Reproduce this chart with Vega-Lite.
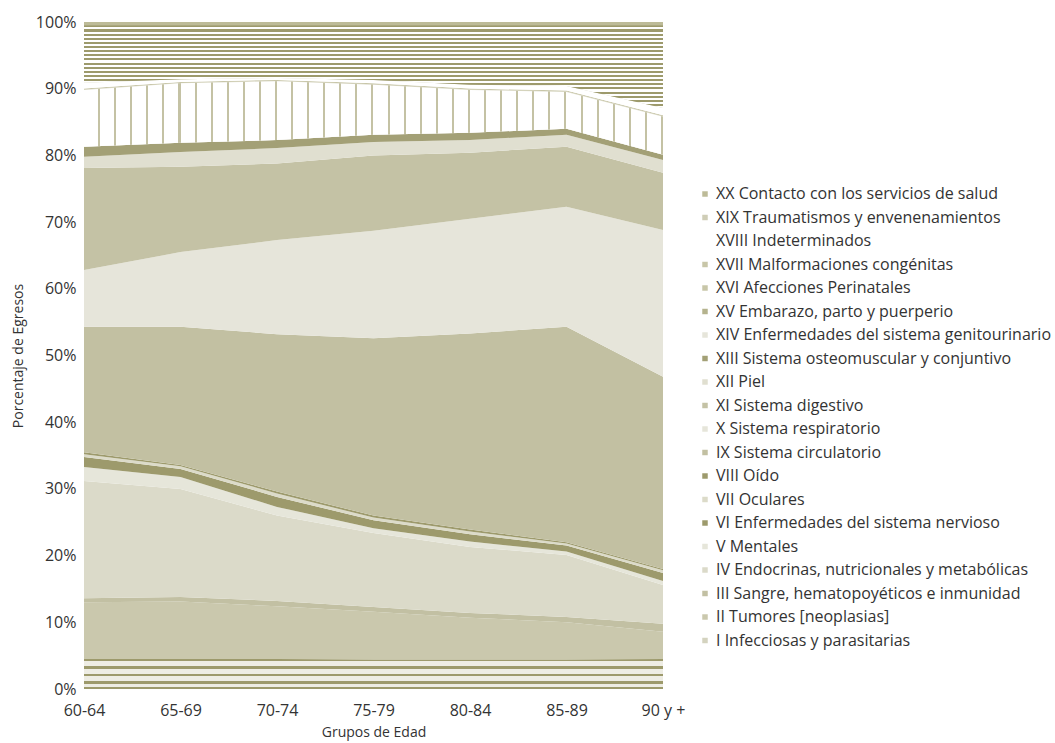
{
  "$schema": "https://vega.github.io/schema/vega-lite/v6.json",
  "width": 579,
  "height": 667,
  "autosize": {"type": "none"},
  "padding": {"left": 84, "top": 22, "right": 392, "bottom": 54},
  "background": "#ffffff",
  "config": {"view": {"stroke": null}, "font": "Open Sans"},
  "datasets": {
    "cats": [
      {"k": "I", "label": "I Infecciosas y parasitarias", "o": 1},
      {"k": "II", "label": "II Tumores [neoplasias]", "o": 2},
      {"k": "III", "label": "III Sangre, hematopoyéticos e inmunidad", "o": 3},
      {"k": "IV", "label": "IV Endocrinas, nutricionales y metabólicas", "o": 4},
      {"k": "V", "label": "V Mentales", "o": 5},
      {"k": "VI", "label": "VI Enfermedades del sistema nervioso", "o": 6},
      {"k": "VII", "label": "VII Oculares", "o": 7},
      {"k": "VIII", "label": "VIII Oído", "o": 8},
      {"k": "IX", "label": "IX Sistema circulatorio", "o": 9},
      {"k": "X", "label": "X Sistema respiratorio", "o": 10},
      {"k": "XI", "label": "XI Sistema digestivo", "o": 11},
      {"k": "XII", "label": "XII Piel", "o": 12},
      {"k": "XIII", "label": "XIII Sistema osteomuscular y conjuntivo", "o": 13},
      {"k": "XIV", "label": "XIV Enfermedades del sistema genitourinario", "o": 14},
      {"k": "XV", "label": "XV Embarazo, parto y puerperio", "o": 15},
      {"k": "XVI", "label": "XVI Afecciones Perinatales", "o": 16},
      {"k": "XVII", "label": "XVII Malformaciones congénitas", "o": 17},
      {"k": "XVIII", "label": "XVIII Indeterminados", "o": 18},
      {"k": "XIX", "label": "XIX Traumatismos y envenenamientos", "o": 19},
      {"k": "XX", "label": "XX Contacto con los servicios de salud", "o": 20}
    ],
    "egresos": [
      {"g": "60-64", "k": "I", "v": 4.5}, {"g": "65-69", "k": "I", "v": 4.5}, {"g": "70-74", "k": "I", "v": 4.5}, {"g": "75-79", "k": "I", "v": 4.4}, {"g": "80-84", "k": "I", "v": 4.4}, {"g": "85-89", "k": "I", "v": 4.4}, {"g": "90 y +", "k": "I", "v": 4.5},
      {"g": "60-64", "k": "II", "v": 8.5}, {"g": "65-69", "k": "II", "v": 8.6}, {"g": "70-74", "k": "II", "v": 7.9}, {"g": "75-79", "k": "II", "v": 7.2}, {"g": "80-84", "k": "II", "v": 6.3}, {"g": "85-89", "k": "II", "v": 5.6}, {"g": "90 y +", "k": "II", "v": 4.1},
      {"g": "60-64", "k": "III", "v": 0.6}, {"g": "65-69", "k": "III", "v": 0.7}, {"g": "70-74", "k": "III", "v": 0.8}, {"g": "75-79", "k": "III", "v": 0.7}, {"g": "80-84", "k": "III", "v": 0.7}, {"g": "85-89", "k": "III", "v": 0.8}, {"g": "90 y +", "k": "III", "v": 1.2},
      {"g": "60-64", "k": "IV", "v": 17.6}, {"g": "65-69", "k": "IV", "v": 16.2}, {"g": "70-74", "k": "IV", "v": 12.8}, {"g": "75-79", "k": "IV", "v": 11.1}, {"g": "80-84", "k": "IV", "v": 9.9}, {"g": "85-89", "k": "IV", "v": 9.3}, {"g": "90 y +", "k": "IV", "v": 5.8},
      {"g": "60-64", "k": "V", "v": 2.1}, {"g": "65-69", "k": "V", "v": 1.8}, {"g": "70-74", "k": "V", "v": 1.3}, {"g": "75-79", "k": "V", "v": 0.7}, {"g": "80-84", "k": "V", "v": 0.8}, {"g": "85-89", "k": "V", "v": 0.5}, {"g": "90 y +", "k": "V", "v": 0.6},
      {"g": "60-64", "k": "VI", "v": 1.5}, {"g": "65-69", "k": "VI", "v": 1.2}, {"g": "70-74", "k": "VI", "v": 1.5}, {"g": "75-79", "k": "VI", "v": 1.2}, {"g": "80-84", "k": "VI", "v": 1.1}, {"g": "85-89", "k": "VI", "v": 0.9}, {"g": "90 y +", "k": "VI", "v": 1.2},
      {"g": "60-64", "k": "VII", "v": 0.4}, {"g": "65-69", "k": "VII", "v": 0.4}, {"g": "70-74", "k": "VII", "v": 0.5}, {"g": "75-79", "k": "VII", "v": 0.4}, {"g": "80-84", "k": "VII", "v": 0.4}, {"g": "85-89", "k": "VII", "v": 0.3}, {"g": "90 y +", "k": "VII", "v": 0.4},
      {"g": "60-64", "k": "VIII", "v": 0.3}, {"g": "65-69", "k": "VIII", "v": 0.2}, {"g": "70-74", "k": "VIII", "v": 0.3}, {"g": "75-79", "k": "VIII", "v": 0.3}, {"g": "80-84", "k": "VIII", "v": 0.3}, {"g": "85-89", "k": "VIII", "v": 0.2}, {"g": "90 y +", "k": "VIII", "v": 0.2},
      {"g": "60-64", "k": "IX", "v": 18.8}, {"g": "65-69", "k": "IX", "v": 20.7}, {"g": "70-74", "k": "IX", "v": 23.6}, {"g": "75-79", "k": "IX", "v": 26.6}, {"g": "80-84", "k": "IX", "v": 29.4}, {"g": "85-89", "k": "IX", "v": 32.3}, {"g": "90 y +", "k": "IX", "v": 28.8},
      {"g": "60-64", "k": "X", "v": 8.5}, {"g": "65-69", "k": "X", "v": 11.2}, {"g": "70-74", "k": "X", "v": 14.1}, {"g": "75-79", "k": "X", "v": 16.1}, {"g": "80-84", "k": "X", "v": 17.2}, {"g": "85-89", "k": "X", "v": 18.0}, {"g": "90 y +", "k": "X", "v": 22.0},
      {"g": "60-64", "k": "XI", "v": 15.3}, {"g": "65-69", "k": "XI", "v": 12.8}, {"g": "70-74", "k": "XI", "v": 11.5}, {"g": "75-79", "k": "XI", "v": 11.3}, {"g": "80-84", "k": "XI", "v": 9.9}, {"g": "85-89", "k": "XI", "v": 9.0}, {"g": "90 y +", "k": "XI", "v": 8.6},
      {"g": "60-64", "k": "XII", "v": 1.7}, {"g": "65-69", "k": "XII", "v": 2.2}, {"g": "70-74", "k": "XII", "v": 2.3}, {"g": "75-79", "k": "XII", "v": 2.0}, {"g": "80-84", "k": "XII", "v": 1.9}, {"g": "85-89", "k": "XII", "v": 1.8}, {"g": "90 y +", "k": "XII", "v": 1.9},
      {"g": "60-64", "k": "XIII", "v": 1.5}, {"g": "65-69", "k": "XIII", "v": 1.4}, {"g": "70-74", "k": "XIII", "v": 1.2}, {"g": "75-79", "k": "XIII", "v": 1.1}, {"g": "80-84", "k": "XIII", "v": 1.1}, {"g": "85-89", "k": "XIII", "v": 0.9}, {"g": "90 y +", "k": "XIII", "v": 0.8},
      {"g": "60-64", "k": "XIV", "v": 8.5}, {"g": "65-69", "k": "XIV", "v": 8.9}, {"g": "70-74", "k": "XIV", "v": 8.8}, {"g": "75-79", "k": "XIV", "v": 7.5}, {"g": "80-84", "k": "XIV", "v": 6.4}, {"g": "85-89", "k": "XIV", "v": 5.5}, {"g": "90 y +", "k": "XIV", "v": 5.7},
      {"g": "60-64", "k": "XV", "v": 0.05}, {"g": "65-69", "k": "XV", "v": 0.05}, {"g": "70-74", "k": "XV", "v": 0.05}, {"g": "75-79", "k": "XV", "v": 0.05}, {"g": "80-84", "k": "XV", "v": 0.05}, {"g": "85-89", "k": "XV", "v": 0.05}, {"g": "90 y +", "k": "XV", "v": 0.05},
      {"g": "60-64", "k": "XVI", "v": 0.02}, {"g": "65-69", "k": "XVI", "v": 0.02}, {"g": "70-74", "k": "XVI", "v": 0.02}, {"g": "75-79", "k": "XVI", "v": 0.02}, {"g": "80-84", "k": "XVI", "v": 0.02}, {"g": "85-89", "k": "XVI", "v": 0.02}, {"g": "90 y +", "k": "XVI", "v": 0.02},
      {"g": "60-64", "k": "XVII", "v": 0.15}, {"g": "65-69", "k": "XVII", "v": 0.15}, {"g": "70-74", "k": "XVII", "v": 0.15}, {"g": "75-79", "k": "XVII", "v": 0.15}, {"g": "80-84", "k": "XVII", "v": 0.15}, {"g": "85-89", "k": "XVII", "v": 0.15}, {"g": "90 y +", "k": "XVII", "v": 0.15},
      {"g": "60-64", "k": "XVIII", "v": 0.88}, {"g": "65-69", "k": "XVIII", "v": 0.38}, {"g": "70-74", "k": "XVIII", "v": 0.28}, {"g": "75-79", "k": "XVIII", "v": 0.48}, {"g": "80-84", "k": "XVIII", "v": 0.58}, {"g": "85-89", "k": "XVIII", "v": 0.68}, {"g": "90 y +", "k": "XVIII", "v": 1.08},
      {"g": "60-64", "k": "XIX", "v": 8.6}, {"g": "65-69", "k": "XIX", "v": 8.1}, {"g": "70-74", "k": "XIX", "v": 7.9}, {"g": "75-79", "k": "XIX", "v": 8.2}, {"g": "80-84", "k": "XIX", "v": 8.9}, {"g": "85-89", "k": "XIX", "v": 9.1}, {"g": "90 y +", "k": "XIX", "v": 12.4},
      {"g": "60-64", "k": "XX", "v": 0.5}, {"g": "65-69", "k": "XX", "v": 0.5}, {"g": "70-74", "k": "XX", "v": 0.5}, {"g": "75-79", "k": "XX", "v": 0.5}, {"g": "80-84", "k": "XX", "v": 0.5}, {"g": "85-89", "k": "XX", "v": 0.5}, {"g": "90 y +", "k": "XX", "v": 0.5}
    ]
  },
  "data": {"name": "egresos"},
  "transform": [
    {"lookup": "k", "from": {"data": {"name": "cats"}, "key": "k", "fields": ["label", "o"]}},
    {"stack": "v", "groupby": ["g"], "sort": [{"field": "o", "order": "ascending"}], "offset": "normalize", "as": ["y0", "y1"]}
  ],
  "encoding": {
    "x": {
      "field": "g", "type": "ordinal",
      "sort": ["60-64", "65-69", "70-74", "75-79", "80-84", "85-89", "90 y +"],
      "scale": {"type": "point", "padding": 0},
      "axis": {"title": "Grupos de Edad", "labelAngle": 0, "domain": false, "ticks": false, "grid": false,
        "labelFontSize": 16, "labelColor": "#333333", "labelPadding": 13, "labelFont": "Open Sans",
        "titleFontSize": 14, "titleColor": "#333333", "titleFontWeight": "normal", "titlePadding": 7, "titleFont": "Open Sans"}
    },
    "y": {
      "field": "y0", "type": "quantitative",
      "scale": {"domain": [0, 1], "nice": false},
      "axis": {"title": "Porcentaje de Egresos", "format": ".0%", "values": [0, 0.1, 0.2, 0.3, 0.4, 0.5, 0.6, 0.7, 0.8, 0.9, 1],
        "domain": false, "ticks": false, "grid": false,
        "labelFontSize": 16, "labelColor": "#333333", "labelPadding": 8, "labelFont": "Open Sans",
        "titleFontSize": 14, "titleColor": "#333333", "titleFontWeight": "normal", "titlePadding": 10, "titleFont": "Open Sans"}
    },
    "y2": {"field": "y1"}
  },
  "layer": [
    {
      "mark": {"type": "area", "interpolate": "linear"},
      "encoding": {
        "color": {
          "field": "label", "type": "nominal",
          "scale": {
            "domain": [
              "XX Contacto con los servicios de salud",
              "XIX Traumatismos y envenenamientos",
              "XVIII Indeterminados",
              "XVII Malformaciones congénitas",
              "XVI Afecciones Perinatales",
              "XV Embarazo, parto y puerperio",
              "XIV Enfermedades del sistema genitourinario",
              "XIII Sistema osteomuscular y conjuntivo",
              "XII Piel",
              "XI Sistema digestivo",
              "X Sistema respiratorio",
              "IX Sistema circulatorio",
              "VIII Oído",
              "VII Oculares",
              "VI Enfermedades del sistema nervioso",
              "V Mentales",
              "IV Endocrinas, nutricionales y metabólicas",
              "III Sangre, hematopoyéticos e inmunidad",
              "II Tumores [neoplasias]",
              "I Infecciosas y parasitarias"
            ],
            "range": [
              "#bdbb98", "#cfcdb6", "#ffffff", "#c8c6a8", "#c8c6a8", "#b5b38e", "#e6e5da", "#a3a076", "#e0dfd0", "#c4c2a5",
              "#e6e5da", "#c2c0a2", "#9d9a6c", "#dcdbc9", "#9d9a6c", "#e6e6da", "#dbdac9", "#c2c0a3", "#cac8ad", "#d4d3bf"
            ]
          },
          "legend": {
            "title": null, "orient": "none", "legendX": 613, "legendY": 164,
            "symbolType": "square", "symbolSize": 30, "symbolStrokeWidth": 0,
            "labelFontSize": 16, "labelColor": "#333333", "labelFont": "Open Sans", "labelLimit": 400,
            "rowPadding": 7.5, "padding": 0, "labelOffset": 3
          }
        }
      }
    },
    {
      "transform": [{"filter": "datum.k === 'XIX'"}],
      "mark": {"type": "area", "interpolate": "linear", "fill": {"gradient": "linear", "x1": 0, "y1": 0, "x2": 0, "y2": 1, "stops": [
        {"offset": 0, "color": "#9d9a6c"}, {"offset": 0.025, "color": "#9d9a6c"}, {"offset": 0.025, "color": "#ffffff"}, {"offset": 0.05, "color": "#ffffff"},
        {"offset": 0.05, "color": "#9d9a6c"}, {"offset": 0.075, "color": "#9d9a6c"}, {"offset": 0.075, "color": "#ffffff"}, {"offset": 0.1, "color": "#ffffff"},
        {"offset": 0.1, "color": "#9d9a6c"}, {"offset": 0.125, "color": "#9d9a6c"}, {"offset": 0.125, "color": "#ffffff"}, {"offset": 0.15, "color": "#ffffff"},
        {"offset": 0.15, "color": "#9d9a6c"}, {"offset": 0.175, "color": "#9d9a6c"}, {"offset": 0.175, "color": "#ffffff"}, {"offset": 0.2, "color": "#ffffff"},
        {"offset": 0.2, "color": "#9d9a6c"}, {"offset": 0.225, "color": "#9d9a6c"}, {"offset": 0.225, "color": "#ffffff"}, {"offset": 0.25, "color": "#ffffff"},
        {"offset": 0.25, "color": "#9d9a6c"}, {"offset": 0.275, "color": "#9d9a6c"}, {"offset": 0.275, "color": "#ffffff"}, {"offset": 0.3, "color": "#ffffff"},
        {"offset": 0.3, "color": "#9d9a6c"}, {"offset": 0.325, "color": "#9d9a6c"}, {"offset": 0.325, "color": "#ffffff"}, {"offset": 0.35, "color": "#ffffff"},
        {"offset": 0.35, "color": "#9d9a6c"}, {"offset": 0.375, "color": "#9d9a6c"}, {"offset": 0.375, "color": "#ffffff"}, {"offset": 0.4, "color": "#ffffff"},
        {"offset": 0.4, "color": "#9d9a6c"}, {"offset": 0.425, "color": "#9d9a6c"}, {"offset": 0.425, "color": "#ffffff"}, {"offset": 0.45, "color": "#ffffff"},
        {"offset": 0.45, "color": "#9d9a6c"}, {"offset": 0.475, "color": "#9d9a6c"}, {"offset": 0.475, "color": "#ffffff"}, {"offset": 0.5, "color": "#ffffff"},
        {"offset": 0.5, "color": "#9d9a6c"}, {"offset": 0.525, "color": "#9d9a6c"}, {"offset": 0.525, "color": "#ffffff"}, {"offset": 0.55, "color": "#ffffff"},
        {"offset": 0.55, "color": "#9d9a6c"}, {"offset": 0.575, "color": "#9d9a6c"}, {"offset": 0.575, "color": "#ffffff"}, {"offset": 0.6, "color": "#ffffff"},
        {"offset": 0.6, "color": "#9d9a6c"}, {"offset": 0.625, "color": "#9d9a6c"}, {"offset": 0.625, "color": "#ffffff"}, {"offset": 0.65, "color": "#ffffff"},
        {"offset": 0.65, "color": "#9d9a6c"}, {"offset": 0.675, "color": "#9d9a6c"}, {"offset": 0.675, "color": "#ffffff"}, {"offset": 0.7, "color": "#ffffff"},
        {"offset": 0.7, "color": "#9d9a6c"}, {"offset": 0.725, "color": "#9d9a6c"}, {"offset": 0.725, "color": "#ffffff"}, {"offset": 0.75, "color": "#ffffff"},
        {"offset": 0.75, "color": "#9d9a6c"}, {"offset": 0.775, "color": "#9d9a6c"}, {"offset": 0.775, "color": "#ffffff"}, {"offset": 0.8, "color": "#ffffff"},
        {"offset": 0.8, "color": "#9d9a6c"}, {"offset": 0.825, "color": "#9d9a6c"}, {"offset": 0.825, "color": "#ffffff"}, {"offset": 0.85, "color": "#ffffff"},
        {"offset": 0.85, "color": "#9d9a6c"}, {"offset": 0.875, "color": "#9d9a6c"}, {"offset": 0.875, "color": "#ffffff"}, {"offset": 0.9, "color": "#ffffff"},
        {"offset": 0.9, "color": "#9d9a6c"}, {"offset": 0.925, "color": "#9d9a6c"}, {"offset": 0.925, "color": "#ffffff"}, {"offset": 0.95, "color": "#ffffff"},
        {"offset": 0.95, "color": "#9d9a6c"}, {"offset": 0.975, "color": "#9d9a6c"}, {"offset": 0.975, "color": "#ffffff"}, {"offset": 1, "color": "#ffffff"}
      ]}}
    },
    {
      "transform": [{"filter": "datum.k === 'XIV'"}],
      "mark": {"type": "area", "interpolate": "linear", "fill": {"gradient": "linear", "x1": 0, "y1": 0, "x2": 1, "y2": 0, "stops": [
        {"offset": 0, "color": "#ffffff"}, {"offset": 0.02428, "color": "#ffffff"}, {"offset": 0.02428, "color": "#c4c2a4"}, {"offset": 0.02778, "color": "#c4c2a4"},
        {"offset": 0.02778, "color": "#ffffff"}, {"offset": 0.05206, "color": "#ffffff"}, {"offset": 0.05206, "color": "#c4c2a4"}, {"offset": 0.05556, "color": "#c4c2a4"},
        {"offset": 0.05556, "color": "#ffffff"}, {"offset": 0.07983, "color": "#ffffff"}, {"offset": 0.07983, "color": "#c4c2a4"}, {"offset": 0.08333, "color": "#c4c2a4"},
        {"offset": 0.08333, "color": "#ffffff"}, {"offset": 0.10761, "color": "#ffffff"}, {"offset": 0.10761, "color": "#c4c2a4"}, {"offset": 0.11111, "color": "#c4c2a4"},
        {"offset": 0.11111, "color": "#ffffff"}, {"offset": 0.13539, "color": "#ffffff"}, {"offset": 0.13539, "color": "#c4c2a4"}, {"offset": 0.13889, "color": "#c4c2a4"},
        {"offset": 0.13889, "color": "#ffffff"}, {"offset": 0.16317, "color": "#ffffff"}, {"offset": 0.16317, "color": "#c4c2a4"}, {"offset": 0.16667, "color": "#c4c2a4"},
        {"offset": 0.16667, "color": "#ffffff"}, {"offset": 0.19094, "color": "#ffffff"}, {"offset": 0.19094, "color": "#c4c2a4"}, {"offset": 0.19444, "color": "#c4c2a4"},
        {"offset": 0.19444, "color": "#ffffff"}, {"offset": 0.21872, "color": "#ffffff"}, {"offset": 0.21872, "color": "#c4c2a4"}, {"offset": 0.22222, "color": "#c4c2a4"},
        {"offset": 0.22222, "color": "#ffffff"}, {"offset": 0.2465, "color": "#ffffff"}, {"offset": 0.2465, "color": "#c4c2a4"}, {"offset": 0.25, "color": "#c4c2a4"},
        {"offset": 0.25, "color": "#ffffff"}, {"offset": 0.27428, "color": "#ffffff"}, {"offset": 0.27428, "color": "#c4c2a4"}, {"offset": 0.27778, "color": "#c4c2a4"},
        {"offset": 0.27778, "color": "#ffffff"}, {"offset": 0.30206, "color": "#ffffff"}, {"offset": 0.30206, "color": "#c4c2a4"}, {"offset": 0.30556, "color": "#c4c2a4"},
        {"offset": 0.30556, "color": "#ffffff"}, {"offset": 0.32983, "color": "#ffffff"}, {"offset": 0.32983, "color": "#c4c2a4"}, {"offset": 0.33333, "color": "#c4c2a4"},
        {"offset": 0.33333, "color": "#ffffff"}, {"offset": 0.35761, "color": "#ffffff"}, {"offset": 0.35761, "color": "#c4c2a4"}, {"offset": 0.36111, "color": "#c4c2a4"},
        {"offset": 0.36111, "color": "#ffffff"}, {"offset": 0.38539, "color": "#ffffff"}, {"offset": 0.38539, "color": "#c4c2a4"}, {"offset": 0.38889, "color": "#c4c2a4"},
        {"offset": 0.38889, "color": "#ffffff"}, {"offset": 0.41317, "color": "#ffffff"}, {"offset": 0.41317, "color": "#c4c2a4"}, {"offset": 0.41667, "color": "#c4c2a4"},
        {"offset": 0.41667, "color": "#ffffff"}, {"offset": 0.44094, "color": "#ffffff"}, {"offset": 0.44094, "color": "#c4c2a4"}, {"offset": 0.44444, "color": "#c4c2a4"},
        {"offset": 0.44444, "color": "#ffffff"}, {"offset": 0.46872, "color": "#ffffff"}, {"offset": 0.46872, "color": "#c4c2a4"}, {"offset": 0.47222, "color": "#c4c2a4"},
        {"offset": 0.47222, "color": "#ffffff"}, {"offset": 0.4965, "color": "#ffffff"}, {"offset": 0.4965, "color": "#c4c2a4"}, {"offset": 0.5, "color": "#c4c2a4"},
        {"offset": 0.5, "color": "#ffffff"}, {"offset": 0.52428, "color": "#ffffff"}, {"offset": 0.52428, "color": "#c4c2a4"}, {"offset": 0.52778, "color": "#c4c2a4"},
        {"offset": 0.52778, "color": "#ffffff"}, {"offset": 0.55206, "color": "#ffffff"}, {"offset": 0.55206, "color": "#c4c2a4"}, {"offset": 0.55556, "color": "#c4c2a4"},
        {"offset": 0.55556, "color": "#ffffff"}, {"offset": 0.57983, "color": "#ffffff"}, {"offset": 0.57983, "color": "#c4c2a4"}, {"offset": 0.58333, "color": "#c4c2a4"},
        {"offset": 0.58333, "color": "#ffffff"}, {"offset": 0.60761, "color": "#ffffff"}, {"offset": 0.60761, "color": "#c4c2a4"}, {"offset": 0.61111, "color": "#c4c2a4"},
        {"offset": 0.61111, "color": "#ffffff"}, {"offset": 0.63539, "color": "#ffffff"}, {"offset": 0.63539, "color": "#c4c2a4"}, {"offset": 0.63889, "color": "#c4c2a4"},
        {"offset": 0.63889, "color": "#ffffff"}, {"offset": 0.66317, "color": "#ffffff"}, {"offset": 0.66317, "color": "#c4c2a4"}, {"offset": 0.66667, "color": "#c4c2a4"},
        {"offset": 0.66667, "color": "#ffffff"}, {"offset": 0.69094, "color": "#ffffff"}, {"offset": 0.69094, "color": "#c4c2a4"}, {"offset": 0.69444, "color": "#c4c2a4"},
        {"offset": 0.69444, "color": "#ffffff"}, {"offset": 0.71872, "color": "#ffffff"}, {"offset": 0.71872, "color": "#c4c2a4"}, {"offset": 0.72222, "color": "#c4c2a4"},
        {"offset": 0.72222, "color": "#ffffff"}, {"offset": 0.7465, "color": "#ffffff"}, {"offset": 0.7465, "color": "#c4c2a4"}, {"offset": 0.75, "color": "#c4c2a4"},
        {"offset": 0.75, "color": "#ffffff"}, {"offset": 0.77428, "color": "#ffffff"}, {"offset": 0.77428, "color": "#c4c2a4"}, {"offset": 0.77778, "color": "#c4c2a4"},
        {"offset": 0.77778, "color": "#ffffff"}, {"offset": 0.80206, "color": "#ffffff"}, {"offset": 0.80206, "color": "#c4c2a4"}, {"offset": 0.80556, "color": "#c4c2a4"},
        {"offset": 0.80556, "color": "#ffffff"}, {"offset": 0.82983, "color": "#ffffff"}, {"offset": 0.82983, "color": "#c4c2a4"}, {"offset": 0.83333, "color": "#c4c2a4"},
        {"offset": 0.83333, "color": "#ffffff"}, {"offset": 0.85761, "color": "#ffffff"}, {"offset": 0.85761, "color": "#c4c2a4"}, {"offset": 0.86111, "color": "#c4c2a4"},
        {"offset": 0.86111, "color": "#ffffff"}, {"offset": 0.88539, "color": "#ffffff"}, {"offset": 0.88539, "color": "#c4c2a4"}, {"offset": 0.88889, "color": "#c4c2a4"},
        {"offset": 0.88889, "color": "#ffffff"}, {"offset": 0.91317, "color": "#ffffff"}, {"offset": 0.91317, "color": "#c4c2a4"}, {"offset": 0.91667, "color": "#c4c2a4"},
        {"offset": 0.91667, "color": "#ffffff"}, {"offset": 0.94094, "color": "#ffffff"}, {"offset": 0.94094, "color": "#c4c2a4"}, {"offset": 0.94444, "color": "#c4c2a4"},
        {"offset": 0.94444, "color": "#ffffff"}, {"offset": 0.96872, "color": "#ffffff"}, {"offset": 0.96872, "color": "#c4c2a4"}, {"offset": 0.97222, "color": "#c4c2a4"},
        {"offset": 0.97222, "color": "#ffffff"}, {"offset": 0.9965, "color": "#ffffff"}, {"offset": 0.9965, "color": "#c4c2a4"}, {"offset": 1, "color": "#c4c2a4"}
      ]}}
    },
    {
      "transform": [{"filter": "datum.k === 'I'"}],
      "mark": {"type": "area", "interpolate": "linear", "fill": {"gradient": "linear", "x1": 0, "y1": 0, "x2": 0, "y2": 1, "stops": [
        {"offset": 0, "color": "#9d9a6c"}, {"offset": 0.07, "color": "#9d9a6c"}, {"offset": 0.07, "color": "#eeede4"}, {"offset": 0.25, "color": "#eeede4"},
        {"offset": 0.25, "color": "#9d9a6c"}, {"offset": 0.32, "color": "#9d9a6c"}, {"offset": 0.32, "color": "#eeede4"}, {"offset": 0.5, "color": "#eeede4"},
        {"offset": 0.5, "color": "#9d9a6c"}, {"offset": 0.57, "color": "#9d9a6c"}, {"offset": 0.57, "color": "#eeede4"}, {"offset": 0.75, "color": "#eeede4"},
        {"offset": 0.75, "color": "#9d9a6c"}, {"offset": 0.82, "color": "#9d9a6c"}, {"offset": 0.82, "color": "#eeede4"}, {"offset": 0.94, "color": "#eeede4"},
        {"offset": 0.94, "color": "#9d9a6c"}, {"offset": 1, "color": "#9d9a6c"}
      ]}}
    }
  ]
}
